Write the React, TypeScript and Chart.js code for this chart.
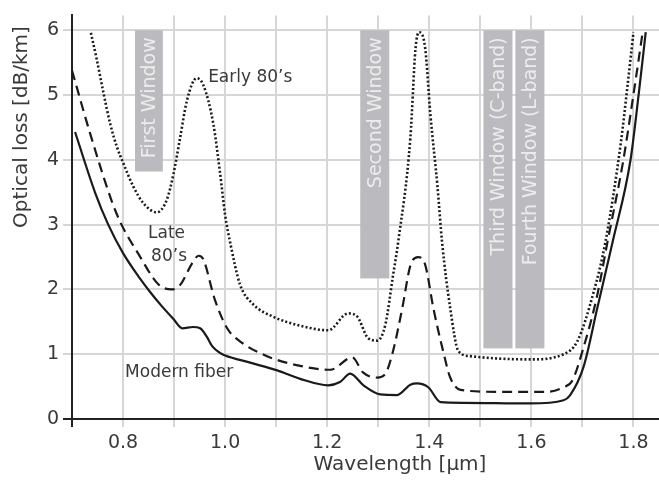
import React, { useEffect, useRef } from "react";
import { Chart, registerables } from "chart.js";

Chart.register(...registerables);

// ---- Data ----
const modernX = [0.706, 0.745, 0.771, 0.8, 0.833, 0.853, 0.875, 0.898, 0.916, 0.937, 0.951, 0.964, 0.975, 0.99, 1.0, 1.049, 1.102, 1.147, 1.202, 1.225, 1.245, 1.271, 1.304, 1.337, 1.363, 1.376, 1.398, 1.422, 1.467, 1.598, 1.663, 1.676, 1.702, 1.729, 1.759, 1.794, 1.81, 1.824];
const modernY = [4.43, 3.5, 3.0, 2.56, 2.17, 1.96, 1.75, 1.55, 1.4, 1.42, 1.4, 1.27, 1.12, 1.02, 0.98, 0.87, 0.75, 0.62, 0.52, 0.57, 0.7, 0.52, 0.38, 0.37, 0.53, 0.55, 0.49, 0.26, 0.25, 0.24, 0.29, 0.37, 0.8, 1.71, 2.73, 3.99, 5.0, 5.97];

const late80X = [0.7, 0.735, 0.778, 0.797, 0.83, 0.869, 0.895, 0.912, 0.935, 0.948, 0.957, 0.98, 1.004, 1.029, 1.082, 1.147, 1.206, 1.249, 1.27, 1.298, 1.314, 1.329, 1.347, 1.363, 1.378, 1.392, 1.408, 1.427, 1.441, 1.461, 1.533, 1.631, 1.663, 1.68, 1.702, 1.729, 1.749, 1.78, 1.8, 1.818];
const late80Y = [5.38, 4.42, 3.36, 3.0, 2.55, 2.08, 2.0, 2.07, 2.4, 2.52, 2.47, 1.84, 1.4, 1.2, 0.97, 0.82, 0.76, 0.95, 0.72, 0.64, 0.7, 1.05, 1.71, 2.37, 2.5, 2.38, 1.71, 1.05, 0.64, 0.45, 0.42, 0.42, 0.49, 0.59, 1.1, 1.91, 2.73, 3.99, 5.01, 5.97];

const early80X = [0.737, 0.748, 0.761, 0.775, 0.788, 0.801, 0.82, 0.84, 0.866, 0.886, 0.899, 0.912, 0.925, 0.944, 0.957, 0.977, 0.99, 1.0, 1.01, 1.029, 1.055, 1.094, 1.147, 1.202, 1.241, 1.259, 1.28, 1.298, 1.314, 1.329, 1.339, 1.363, 1.373, 1.38, 1.392, 1.402, 1.416, 1.425, 1.441, 1.457, 1.48, 1.598, 1.663, 1.69, 1.722, 1.745, 1.775, 1.788, 1.8];
const early80Y = [5.96, 5.57, 5.06, 4.55, 4.2, 3.94, 3.59, 3.33, 3.19, 3.39, 3.79, 4.35, 4.91, 5.26, 5.16, 4.55, 3.8, 3.15, 2.72, 2.08, 1.77, 1.58, 1.44, 1.37, 1.63, 1.58, 1.25, 1.21, 1.46, 2.22, 2.73, 4.35, 5.72, 5.97, 5.72, 4.71, 3.59, 2.73, 1.71, 1.05, 0.97, 0.92, 1.0, 1.2, 1.96, 2.73, 4.25, 5.12, 5.97];

// Transmission windows
const windowLabels = ["First Window", "Second Window", "Third Window (C-band)", "Fourth Window (L-band)"];
const windowStart = [0.8235, 1.2647, 1.506, 1.5686];
const windowEnd = [0.878, 1.3216, 1.563, 1.6255];
const windowBottom = [3.82, 2.17, 1.09, 1.09];
const windowTop = 6;

// Curve labels
const noteTexts = ["Early 80\u2019s", "Late", "80\u2019s", "Modern fiber"];
const noteX = [0.9667, 0.849, 0.855, 0.804];
const noteY = [5.27, 2.86, 2.5, 0.72];

const xTitle = "Wavelength [\u00b5m]";
const yTitle = "Optical loss [dB/km]";

const FONT = '"DejaVu Sans", sans-serif';
const TEXT_COLOR = "#3a3a3a";

const toPoints = (xs: number[], ys: number[]) => xs.map((x, i) => ({ x, y: ys[i] }));

const decorPlugin = {
  id: "decor",
  beforeDatasetsDraw(chart: any) {
    const { ctx, scales } = chart;
    const xs = scales.x, ys = scales.y;
    ctx.save();
    windowLabels.forEach((label, i) => {
      const x0 = xs.getPixelForValue(windowStart[i]);
      const x1 = xs.getPixelForValue(windowEnd[i]);
      const y0 = ys.getPixelForValue(windowTop);
      const y1 = ys.getPixelForValue(windowBottom[i]);
      ctx.fillStyle = "#bbbbbf";
      ctx.fillRect(x0, y0, x1 - x0, y1 - y0);
      ctx.save();
      ctx.translate((x0 + x1) / 2, y0 + 7);
      ctx.rotate(-Math.PI / 2);
      ctx.fillStyle = "#ececec";
      ctx.font = `19px ${FONT}`;
      ctx.textAlign = "right";
      ctx.textBaseline = "middle";
      ctx.fillText(label, 0, 1);
      ctx.restore();
    });
    ctx.restore();
  },
  afterDatasetsDraw(chart: any) {
    const { ctx, scales } = chart;
    ctx.save();
    ctx.fillStyle = TEXT_COLOR;
    ctx.font = `17px ${FONT}`;
    ctx.textAlign = "left";
    ctx.textBaseline = "middle";
    noteTexts.forEach((t, i) => {
      ctx.fillText(t, scales.x.getPixelForValue(noteX[i]), scales.y.getPixelForValue(noteY[i]));
    });
    // axis titles
    ctx.font = `20px ${FONT}`;
    ctx.textAlign = "center";
    ctx.textBaseline = "middle";
    ctx.fillText(xTitle, 400, 465);
    ctx.save();
    ctx.translate(22, 127);
    ctx.rotate(-Math.PI / 2);
    ctx.fillText(yTitle, 0, 0);
    ctx.restore();
    ctx.restore();
  },
};

export default function App() {
  const ref = useRef<HTMLCanvasElement | null>(null);
  useEffect(() => {
    if (!ref.current) return;
    const gridColor = (c: any, edge: number) =>
      c.tick && Math.abs(c.tick.value - edge) < 1e-6 ? "#222222" : "#d6d6d6";
    const chart = new Chart(ref.current, {
      type: "line",
      data: {
        datasets: [
          {
            label: "Modern fiber",
            data: toPoints(modernX, modernY),
            borderColor: "#1a1a1a",
            borderWidth: 2.2,
            pointRadius: 0,
            cubicInterpolationMode: "monotone",
            fill: false,
          },
          {
            label: "Late 80's",
            data: toPoints(late80X, late80Y),
            borderColor: "#1a1a1a",
            borderWidth: 2.2,
            borderDash: [10, 6],
            pointRadius: 0,
            cubicInterpolationMode: "monotone",
            fill: false,
          },
          {
            label: "Early 80's",
            data: toPoints(early80X, early80Y),
            borderColor: "#1a1a1a",
            borderWidth: 2.6,
            borderDash: [2, 2.2],
            pointRadius: 0,
            cubicInterpolationMode: "monotone",
            fill: false,
          },
        ],
      },
      options: {
        responsive: false,
        animation: false,
        layout: { padding: { top: 10, right: 0, left: 0, bottom: 0 } },
        plugins: { legend: { display: false }, tooltip: { enabled: false } },
        scales: {
          x: {
            type: "linear",
            min: 0.7,
            max: 1.85,
            afterFit: (s: any) => { s.height = 62; },
            border: { color: "#222222", width: 2 },
            grid: {
              color: (c: any) => gridColor(c, 0.7),
              lineWidth: 2,
              tickLength: 8,
            },
            ticks: {
              stepSize: 0.1,
              includeBounds: false,
              autoSkip: false,
              maxRotation: 0,
              padding: 5,
              color: TEXT_COLOR,
              font: { family: FONT, size: 19 },
              callback: (v: any) => {
                const n = Math.round(Number(v) * 10);
                return n % 2 === 0 ? (n / 10).toFixed(1) : "";
              },
            },
          },
          y: {
            type: "linear",
            min: 0,
            max: 6.23,
            afterFit: (s: any) => { s.width = 72; },
            border: { color: "#222222", width: 2 },
            grid: {
              color: (c: any) => gridColor(c, 0),
              lineWidth: 2,
              tickLength: 9,
            },
            ticks: {
              stepSize: 1,
              includeBounds: false,
              padding: 4,
              color: TEXT_COLOR,
              font: { family: FONT, size: 19 },
            },
          },
        },
      },
      plugins: [decorPlugin],
    } as any);
    return () => chart.destroy();
  }, []);
  return (
    <div style={{ position: "absolute", left: 0, top: 0, width: 659, height: 481, background: "#ffffff" }}>
      <canvas ref={ref} width={659} height={481} style={{ width: 659, height: 481 }} />
    </div>
  );
}
